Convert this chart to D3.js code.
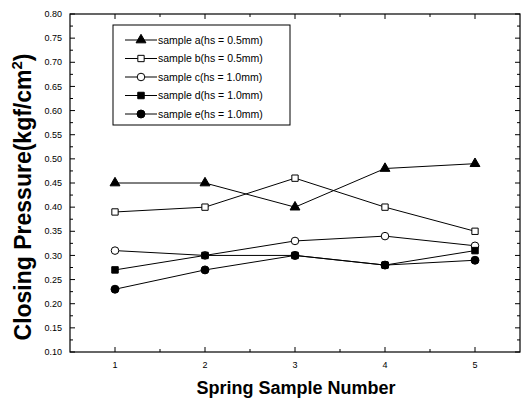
<!DOCTYPE html>
<html>
<head>
<meta charset="utf-8">
<script src="https://cdn.jsdelivr.net/npm/d3@7"></script>
<style>
  body { margin: 0; background: #fff; }
  text { font-family: Arial, "Liberation Sans", sans-serif; fill: #000; }
</style>
</head>
<body>
<div id="chart"></div>
<script>
// data
var springNumbers = [1, 2, 3, 4, 5];
var sampleA = [0.45, 0.45, 0.40, 0.48, 0.49];
var sampleB = [0.39, 0.40, 0.46, 0.40, 0.35];
var sampleC = [0.31, 0.30, 0.33, 0.34, 0.32];
var sampleD = [0.27, 0.30, 0.30, 0.28, 0.31];
var sampleE = [0.23, 0.27, 0.30, 0.28, 0.29];
var seriesNames = ["sample a(hs = 0.5mm)", "sample b(hs = 0.5mm)", "sample c(hs = 1.0mm)",
                   "sample d(hs = 1.0mm)", "sample e(hs = 1.0mm)"];
var yTicks = d3.range(0.10, 0.801, 0.05);

var width = 523, height = 401;
var margin = { top: 14, right: 3, bottom: 49, left: 70 };
var chartWidth = width - margin.left - margin.right;
var chartHeight = height - margin.top - margin.bottom;

var svg = d3.select("#chart").append("svg")
    .attr("width", width)
    .attr("height", height);

var chartGroup = svg.append("g")
    .attr("transform", `translate(${margin.left}, ${margin.top})`);

var x = d3.scaleLinear().domain([0.5, 5.5]).range([0, chartWidth]);
var y = d3.scaleLinear().domain([0.10, 0.80]).range([chartHeight, 0]);

// frame
chartGroup.append("rect")
    .attr("width", chartWidth)
    .attr("height", chartHeight)
    .attr("fill", "none")
    .attr("stroke", "#000")
    .attr("stroke-width", 1.2);

// ticks, all pointing inward
var minorY = d3.range(0.125, 0.8, 0.05);
var minorX = [1.5, 2.5, 3.5, 4.5];
var tickGroup = chartGroup.append("g").attr("stroke", "#000").attr("stroke-width", 1);
yTicks.forEach(function (t) {
    tickGroup.append("line").attr("x1", 0).attr("x2", 5).attr("y1", y(t)).attr("y2", y(t));
    tickGroup.append("line").attr("x1", chartWidth).attr("x2", chartWidth - 5).attr("y1", y(t)).attr("y2", y(t));
});
minorY.forEach(function (t) {
    tickGroup.append("line").attr("x1", 0).attr("x2", 3).attr("y1", y(t)).attr("y2", y(t));
    tickGroup.append("line").attr("x1", chartWidth).attr("x2", chartWidth - 3).attr("y1", y(t)).attr("y2", y(t));
});
springNumbers.forEach(function (t) {
    tickGroup.append("line").attr("x1", x(t)).attr("x2", x(t)).attr("y1", chartHeight).attr("y2", chartHeight - 5);
    tickGroup.append("line").attr("x1", x(t)).attr("x2", x(t)).attr("y1", 0).attr("y2", 5);
});
minorX.forEach(function (t) {
    tickGroup.append("line").attr("x1", x(t)).attr("x2", x(t)).attr("y1", chartHeight).attr("y2", chartHeight - 3);
    tickGroup.append("line").attr("x1", x(t)).attr("x2", x(t)).attr("y1", 0).attr("y2", 3);
});

// tick labels
chartGroup.selectAll(".ylab")
    .data(yTicks)
    .enter().append("text")
    .attr("class", "ylab")
    .attr("x", -8)
    .attr("y", d => y(d))
    .attr("dy", "0.35em")
    .attr("text-anchor", "end")
    .attr("font-size", 9)
    .text(d => d.toFixed(2));

chartGroup.selectAll(".xlab")
    .data(springNumbers)
    .enter().append("text")
    .attr("class", "xlab")
    .attr("x", d => x(d))
    .attr("y", chartHeight + 16)
    .attr("text-anchor", "middle")
    .attr("font-size", 9)
    .text(d => d);

// axis titles
svg.append("text")
    .attr("x", 296)
    .attr("y", 394)
    .attr("text-anchor", "middle")
    .attr("font-size", 18)
    .attr("font-weight", "bold")
    .text("Spring Sample Number");

var yTitle = svg.append("text")
    .attr("transform", `translate(31, 197) rotate(-90)`)
    .attr("text-anchor", "middle")
    .attr("font-size", 23)
    .attr("font-weight", "bold");
yTitle.append("tspan").text("Closing Pressure(kgf/cm");
yTitle.append("tspan").attr("dy", -9).attr("font-size", 15).text("2");
yTitle.append("tspan").attr("dy", 9).text(")");

// markers
var symbols = [
    { type: d3.symbolTriangle, size: 42, fill: "#000" },
    { type: d3.symbolSquare, size: 40, fill: "#fff" },
    { type: d3.symbolCircle, size: 45, fill: "#fff" },
    { type: d3.symbolSquare, size: 42, fill: "#000" },
    { type: d3.symbolCircle, size: 50, fill: "#000" }
];
var allSeries = [sampleA, sampleB, sampleC, sampleD, sampleE];

var line = d3.line()
    .x((d, i) => x(springNumbers[i]))
    .y(d => y(d));

allSeries.forEach(function (values, s) {
    chartGroup.append("path")
        .datum(values)
        .attr("fill", "none")
        .attr("stroke", "#000")
        .attr("stroke-width", 1)
        .attr("d", line);
});
allSeries.forEach(function (values, s) {
    chartGroup.selectAll(".pt" + s)
        .data(values)
        .enter().append("path")
        .attr("class", "pt" + s)
        .attr("d", d3.symbol().type(symbols[s].type).size(symbols[s].size))
        .attr("transform", (d, i) => `translate(${x(springNumbers[i])}, ${y(d)})`)
        .attr("fill", symbols[s].fill)
        .attr("stroke", "#000")
        .attr("stroke-width", 1);
});

// legend
var legend = svg.append("g").attr("transform", "translate(113, 25)");
legend.append("rect")
    .attr("width", 177)
    .attr("height", 100)
    .attr("fill", "#fff")
    .attr("stroke", "#000")
    .attr("stroke-width", 1);
seriesNames.forEach(function (name, s) {
    var row = legend.append("g").attr("transform", `translate(0, ${15 + s * 18.5})`);
    row.append("line").attr("x1", 12).attr("x2", 44).attr("stroke", "#000");
    row.append("path")
        .attr("d", d3.symbol().type(symbols[s].type).size(symbols[s].size))
        .attr("transform", "translate(28, 0)")
        .attr("fill", symbols[s].fill)
        .attr("stroke", "#000");
    row.append("text")
        .attr("x", 45)
        .attr("dy", "0.35em")
        .attr("font-size", 10.5)
        .text(name);
});
</script>
</body>
</html>
